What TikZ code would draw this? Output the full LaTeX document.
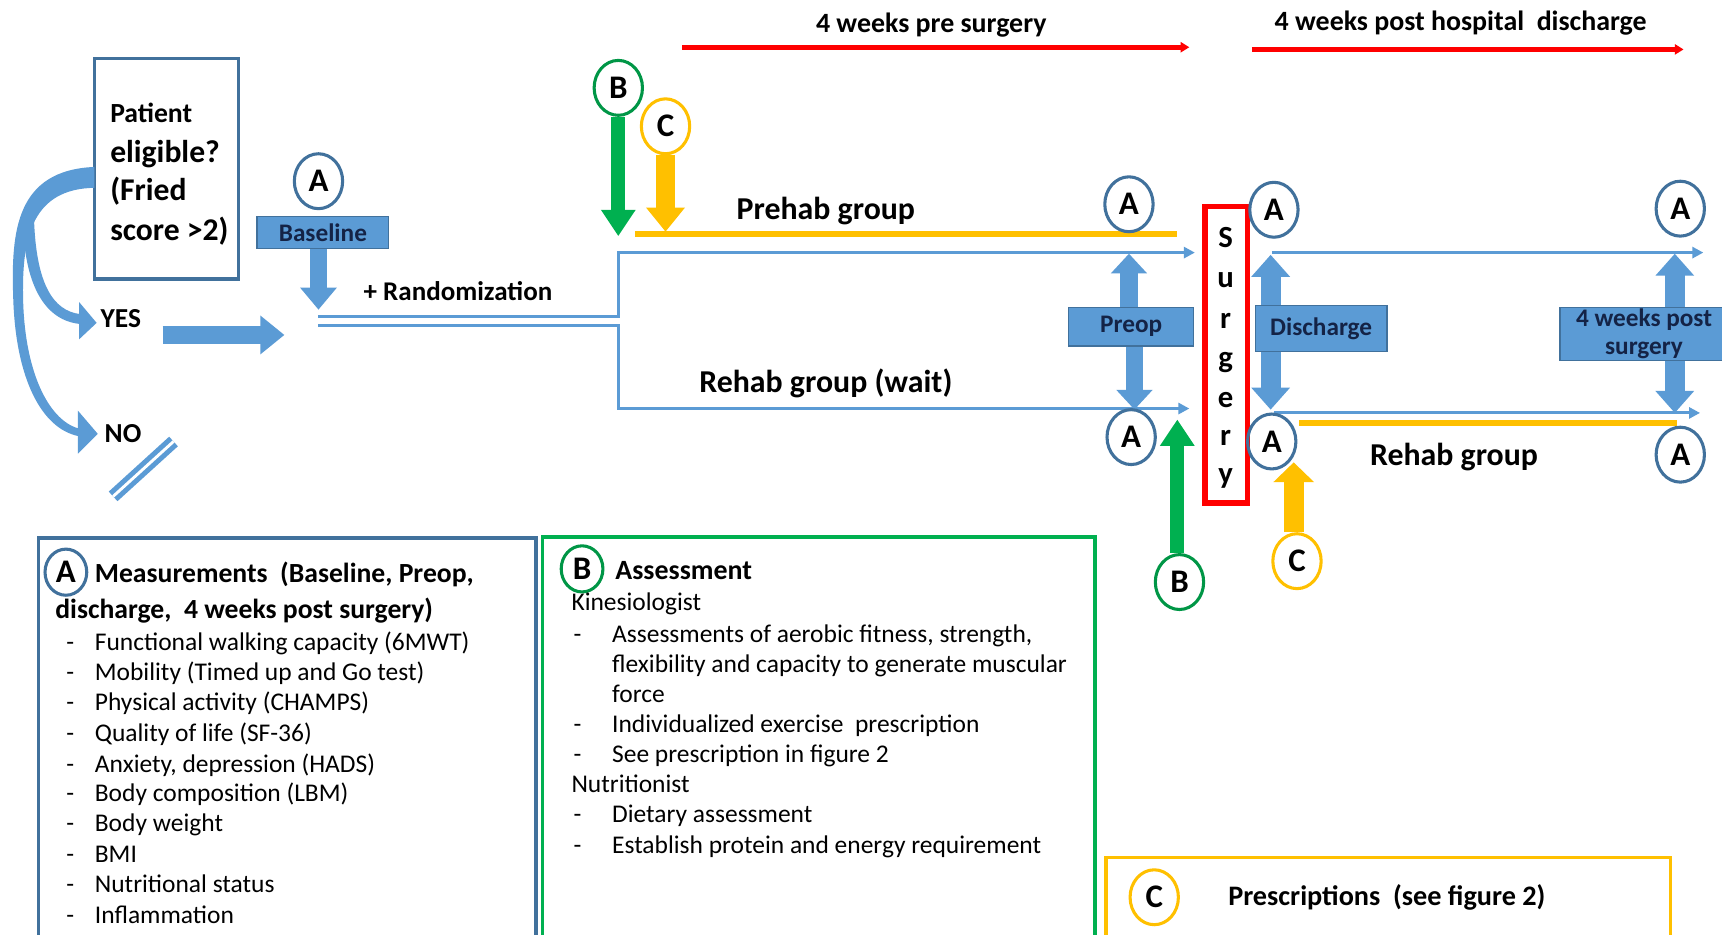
\documentclass[tikz,border=0pt]{standalone}
\usepackage{fontspec}
\setmainfont{Carlito}
\usetikzlibrary{arrows.meta,shapes.geometric}
\definecolor{boxblue}{RGB}{91,155,213}
\definecolor{edgeblue}{RGB}{65,113,156}
\definecolor{grn}{RGB}{0,176,80}
\definecolor{grnc}{RGB}{0,150,70}
\definecolor{ylw}{RGB}{255,192,0}
\definecolor{rd}{RGB}{255,0,0}
\definecolor{navy}{RGB}{20,35,70}
\tikzset{
 circA/.style={ellipse, draw=edgeblue, line width=1.4pt, minimum width=22pt, minimum height=25pt, inner sep=0pt, font=\fontsize{15}{15}\selectfont\bfseries},
 circB/.style={circA, draw=grnc},
 circC/.style={circA, draw=ylw},
 bluebox/.style={rectangle, draw=edgeblue, line width=0.6pt, fill=boxblue, inner sep=0pt, text=navy, font=\fontsize{11.5}{13}\selectfont\bfseries},
 flow/.style={draw=boxblue, line width=1.4pt, -{Triangle[length=5pt,width=5pt]}},
 redarrow/.style={draw=rd, line width=2.4pt, -{Triangle[length=4pt,width=4.6pt]}},
 barrow/.style n args={3}{line width=#1, -{Triangle[width=#2,length=#3]}},
 dbarrow/.style n args={3}{line width=#1, {Triangle[width=#2,length=#3]}-{Triangle[width=#2,length=#3]}},
 lbl/.style={anchor=base, inner sep=0pt, font=\fontsize{#1}{#1}\selectfont\bfseries},
 txt/.style={anchor=base west, inner sep=0pt, font=\fontsize{#1}{#1}\selectfont},
 btxt/.style={anchor=base west, inner sep=0pt, font=\fontsize{#1}{#1}\selectfont\bfseries},
 keybox/.style={rectangle, line width=1.5pt, inner sep=0pt},
}
\begin{document}
\begin{tikzpicture}[x=0.5pt,y=-0.5pt]
\path[use as bounding box] (0,0) rectangle (1568,851);
\clip (0,0) rectangle (1568,851);
\fill[white] (0,0) rectangle (1568,851);

% top time labels
\node[lbl=12.7] (preLbl) at (848,29.6) {4 weeks pre surgery};
\coordinate (preS) at (621,43); \coordinate (preE) at (1083,43);
\draw[redarrow] (preS) -- (preE);
\node[lbl=12.7] (postLbl) at (1330,27.6) {4 weeks post hospital\ \ discharge};
\coordinate (postS) at (1140,45); \coordinate (postE) at (1533,45);
\draw[redarrow] (postS) -- (postE);

% patient box
\node[keybox, draw=edgeblue, minimum width=65.5pt, minimum height=100.5pt] (pat) at (151.5,153.5) {};
\node[btxt=12.6] (p1) at (100,111.5) {Patient};
\node[btxt=14.4] (p2) at (100,147.6) {eligible?};
\node[btxt=14.4] (p3) at (100,182.6) {(Fried};
\node[btxt=14.4] (p4) at (100,218.6) {score >2)};

% curved (tapered) arrows to YES and NO
\fill[boxblue] (86,152) .. controls (15,155) and (10,210) .. (12,270)
   .. controls (14,345) and (38,390) .. (71,397)
   -- (71,390) .. controls (44,382) and (22,338) .. (21,270)
   .. controls (20,215) and (30,172) .. (86,171) -- cycle;
\fill[boxblue] (71,374) -- (89,395) -- (71,413) -- cycle;
\fill[boxblue] (21,205) .. controls (23,262) and (42,292) .. (73,295)
   -- (73,286) .. controls (48,283) and (33,258) .. (31,200) -- cycle;
\fill[boxblue] (72,275) -- (88,294) -- (72,309) -- cycle;
\node[lbl=12.5] (yes) at (110,298.5) {YES};
\node[lbl=12.5] (no) at (112,402.5) {NO};
\coordinate (sl1) at (103,452); \coordinate (sl2) at (158,402);
\draw[boxblue, line width=2.3pt, double=white, double distance=1.3pt] (sl1) -- (sl2);

% baseline
\node[circA] (aBase) at (290,165) {A};
\node[bluebox, minimum width=60pt, minimum height=14.5pt] (base) at (294,211.5) {Baseline};
\coordinate (baseTip) at (290,282);
\draw[barrow={8pt}{16pt}{10pt}, draw=boxblue] (base.south -| baseTip) -- (baseTip);
\coordinate (yS) at (148,305); \coordinate (yE) at (259,305);
\draw[barrow={8pt}{17pt}{11pt}, draw=boxblue] (yS) -- (yE);
\node[lbl=12.3] (rnd) at (417,273.4) {+ Randomization};

% randomization lines
\coordinate (r1) at (290,288); \coordinate (r2) at (290,296); \coordinate (split) at (563,0);
\coordinate (topEnd) at (1088,230); \coordinate (botEnd) at (1083,372);
\draw[flow] (r1) -- (r1 -| split) |- (topEnd);
\draw[flow] (r2) -- (r2 -| split) |- (botEnd);

% prehab arm
\node[circB] (bTop) at (563,80) {B};
\coordinate (bTopTip) at (563,215);
\draw[barrow={6.5pt}{15pt}{12pt}, draw=grn] (bTop.south) -- (bTopTip);
\node[circC] (cTop) at (606,115) {C};
\coordinate (cTopTip) at (606,211);
\draw[barrow={9pt}{17pt}{11pt}, draw=ylw] (cTop.south) -- (cTopTip);
\coordinate (yl1) at (578,213); \coordinate (yl2) at (1072,213);
\draw[ylw, line width=2.6pt] (yl1) -- (yl2);
\node[lbl=14.5] (prehab) at (752,199.7) {Prehab group};
\node[circA] (aPre1) at (1028,186) {A};
\node[bluebox, minimum width=57pt, minimum height=17.5pt] (preop) at (1030,297.5) {Preop};
\coordinate (preUpTip) at (1028,231);
\draw[barrow={8pt}{16pt}{9pt}, draw=boxblue] (preop.north -| preUpTip) -- (preUpTip);
\coordinate (preDnTip) at (1033,373);
\draw[barrow={8pt}{16pt}{9pt}, draw=boxblue] (preop.south -| preDnTip) -- (preDnTip);
\node[lbl=14.5] (rehabW) at (752,357.7) {Rehab group (wait)};
\node[circA] (aPre2) at (1030,398) {A};
\node[circB] (bBot) at (1074,530) {B};
\coordinate (bBotTip) at (1072,382);
\draw[barrow={6.5pt}{15pt}{12pt}, draw=grn] (bBot.north -| bBotTip) -- (bBotTip);

% surgery
\node[draw=rd, line width=2.5pt, minimum width=19.5pt, minimum height=135pt, inner sep=0pt] (surg) at (1116.5,323) {};
\foreach \l/\yy [count=\i] in {S/219,u/256,r/293,g/329,e/365,r/400,y/434}
  \node[lbl=14] (sl\i) at (1116,\yy+6) {\l};

% post surgery
\node[circA] (aDis1) at (1160,191) {A};
\coordinate (trS) at (1158,230); \coordinate (trE) at (1551,230);
\draw[flow] (trS) -- (trE);
\coordinate (disUp) at (1157,232); \coordinate (disDn) at (1157,373);
\draw[dbarrow={9pt}{17pt}{10pt}, draw=boxblue] (disUp) -- (disDn);
\node[bluebox, minimum width=60pt, minimum height=21pt] (dis) at (1203,299) {Discharge};
\coordinate (brS) at (1160,376); \coordinate (brE) at (1548,376);
\draw[flow] (brS) -- (brE);
\node[circA] (aDis2) at (1158,402) {A};
\coordinate (yr1) at (1183,385); \coordinate (yr2) at (1527,385);
\draw[ylw, line width=2.6pt] (yr1) -- (yr2);
\node[circC] (cBot) at (1181,511) {C};
\coordinate (cBotTip) at (1178,421);
\draw[barrow={9pt}{18pt}{9pt}, draw=ylw] (cBot.north -| cBotTip) -- (cBotTip);
\node[lbl=14.5] (rehab) at (1324,423.7) {Rehab group};
\node[circA] (aW1) at (1530,190) {A};
\node[circA] (aW2) at (1530,414) {A};
\coordinate (wUp) at (1525,231); \coordinate (wDn) at (1525,376);
\draw[dbarrow={9pt}{17pt}{10pt}, draw=boxblue] (wUp) -- (wDn);
\node[bluebox, minimum width=76.5pt, minimum height=24pt, align=center] (wk) at (1497,304) {4 weeks post\\surgery};

% key box A
\node[keybox, draw=edgeblue, minimum width=226.5pt, minimum height=205pt] (boxA) at (261.5,695) {};
\node[circA, minimum width=19pt, minimum height=21pt] (aKey) at (60,521) {A};
\node[btxt=12.6] (aT1) at (86,530.5) {Measurements\ \ (Baseline, Preop,};
\node[btxt=12.6] (aT2) at (50,563.5) {discharge,\ \ 4 weeks post surgery)};
\foreach \yy/\t [count=\i] in {585/{Functional walking capacity (6MWT)}, 613/{Mobility (Timed up and Go test)}, 640/{Physical activity (CHAMPS)}, 668/{Quality of life (SF-36)}, 696/{Anxiety, depression (HADS)}, 723/{Body composition (LBM)}, 750/{Body weight}, 778/{BMI}, 806/{Nutritional status}, 834/{Inflammation}} {
  \node[txt=11.6] (ad\i) at (60,\yy+7) {-};
  \node[txt=11.6] (at\i) at (86,\yy+7) {\t};
}

% key box B
\node[keybox, draw=grn, minimum width=251.5pt, minimum height=205.5pt] (boxB) at (745.5,694.5) {};
\node[circB, minimum width=19pt, minimum height=21pt] (bKey) at (530,518) {B};
\node[btxt=12.7] (bT) at (560,527.6) {Assessment};
\node[txt=11.6] (kin) at (520,556) {Kinesiologist};
\node[txt=11.6] (nut) at (520,722) {Nutritionist};
\foreach \yy/\t [count=\i] in {578/{Assessments of aerobic fitness, strength,}, 660/{Individualized exercise\ \ prescription}, 687/{See prescription in figure 2}, 742/{Dietary assessment}, 770/{Establish protein and energy requirement}} {
  \node[txt=11.6] (bd\i) at (522,\yy+7) {-};
  \node[txt=11.6] (bt\i) at (557,\yy+7) {\t};
}
\node[txt=11.6] (bc1) at (557,612) {flexibility and capacity to generate muscular};
\node[txt=11.6] (bc2) at (557,640) {force};

% key box C
\node[keybox, draw=ylw, minimum width=257pt, minimum height=59.5pt] (boxC) at (1264,840.5) {};
\node[circC, minimum width=22pt, minimum height=25pt] (cKey) at (1051,817) {C};
\node[btxt=12.85] (cT) at (1118,824.7) {Prescriptions\ \ (see figure 2)};
\end{tikzpicture}
\end{document}
